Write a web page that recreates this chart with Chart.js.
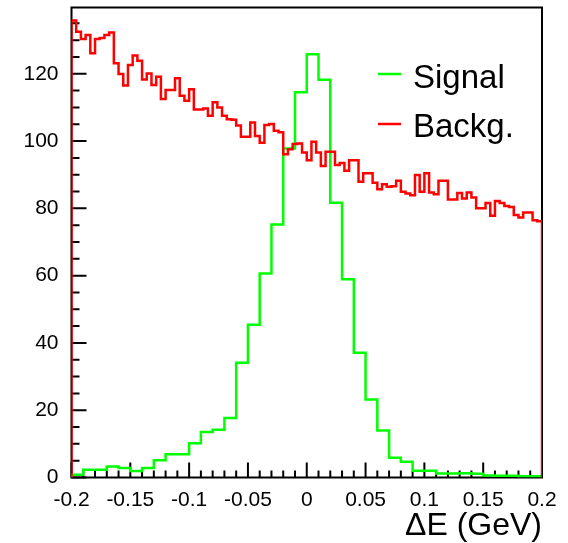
<!DOCTYPE html>
<html lang="en">
<head>
  <meta charset="UTF-8" />
  <title>Delta E - Signal vs Backg.</title>
  <script src="https://cdn.jsdelivr.net/npm/chart.js"></script>
  <style>
    html, body {
      margin: 0;
      padding: 0;
      background: #ffffff;
    }
    #deChart {
      display: block;
    }
  </style>
</head>
<body>
  <canvas id="deChart" width="568" height="543"></canvas>

  <script>
    // histogram range and axis ticks
    const xRange = [-0.2, 0.2];
    const yRange = [0, 139.7];
    const xTickValues = [-0.2, -0.15, -0.1, -0.05, 0, 0.05, 0.1, 0.15, 0.2];
    const xTickLabels = ["-0.2", "-0.15", "-0.1", "-0.05", "0", "0.05", "0.1", "0.15", "0.2"];
    const yTickValues = [0, 20, 40, 60, 80, 100, 120];
    const xTitle = "\u0394E (GeV)";
    const legendLabels = ["Signal", "Backg."];

    // signal: 40 bins over [-0.2, 0.2]
    const signalValues = [
      0.8, 2.3, 2.3, 3.3, 2.8, 1.9, 2.8, 5.1, 6.9, 6.9,
      10.2, 13.5, 14.2, 17.7, 34.1, 45.4, 60.6, 75.2, 97.8, 114.5,
      125.8, 118.2, 81.7, 58.9, 37.1, 23.2, 14.0, 5.9, 4.7, 2.0,
      2.0, 1.2, 1.2, 1.3, 1.1, 0.6, 0.5, 0.5, 0.4, 0.4
    ];

    // background: 100 bins over [-0.2, 0.2]
    const backgValues = [
      135.8, 132.5, 130.3, 131.5, 126.1, 130.3, 130.6, 131.5, 132.3, 123.1,
      119.9, 116.5, 122.6, 125.4, 123.9, 118.3, 120.1, 116.7, 119.1, 112.5,
      115.2, 115.2, 118.7, 113.5, 112.0, 115.4, 109.4, 109.4, 109.7, 107.5,
      111.5, 110.0, 107.5, 106.5, 106.3, 104.6, 101.3, 101.3, 105.5, 101.5,
      99.5, 104.8, 105.1, 103.1, 102.6, 96.1, 97.6, 99.1, 99.3, 96.6,
      94.3, 99.8, 96.6, 92.6, 96.8, 96.8, 92.9, 93.5, 91.2, 94.3,
      94.3, 87.9, 90.4, 90.4, 87.6, 85.7, 87.2, 86.4, 86.6, 88.2,
      84.9, 84.4, 83.9, 89.9, 84.9, 90.4, 84.7, 84.2, 88.2, 88.2,
      82.6, 82.6, 84.6, 82.9, 84.7, 83.2, 80.0, 80.0, 81.6, 77.8,
      82.2, 81.6, 80.7, 80.4, 78.0, 77.3, 78.8, 78.8, 76.5, 76.2
    ];

    const FONT = "'Liberation Sans', Arial, Helvetica, sans-serif";

    // turn bin contents into step points (left edge of each bin, closed at 0 on both ends)
    function histPoints(values) {
      const w = (xRange[1] - xRange[0]) / values.length;
      const pts = [{ x: xRange[0], y: 0 }];
      values.forEach((v, i) => pts.push({ x: xRange[0] + i * w, y: v }));
      pts.push({ x: xRange[1], y: 0 });
      return pts;
    }

    // frame + ROOT style ticks drawn inside the plot
    const frameTicks = {
      id: 'frameTicks',
      beforeDatasetsDraw(chart) {
        const { ctx, chartArea: a, scales: { x, y } } = chart;
        ctx.save();
        ctx.strokeStyle = '#000';
        ctx.lineWidth = 2;
        ctx.strokeRect(a.left, a.top, a.right - a.left, a.bottom - a.top);

        ctx.beginPath();
        for (let v = 0; v <= 135; v += 5) {
          const py = y.getPixelForValue(v);
          const len = v % 20 === 0 ? 15 : 8;
          ctx.moveTo(a.left, py);
          ctx.lineTo(a.left + len, py);
        }
        for (let k = 0; k <= 40; k++) {
          const px = x.getPixelForValue(xRange[0] + k * 0.01);
          const len = k % 5 === 0 ? 15 : 7;
          ctx.moveTo(px, a.bottom);
          ctx.lineTo(px, a.bottom - len);
        }
        ctx.stroke();
        ctx.restore();
      }
    };

    // legend in the upper right corner
    const cornerLegend = {
      id: 'cornerLegend',
      afterDatasetsDraw(chart) {
        const { ctx } = chart;
        const rows = [
          { ds: chart.data.datasets[0], lineY: 74, textY: 88 },
          { ds: chart.data.datasets[1], lineY: 124, textY: 137 }
        ];
        ctx.save();
        ctx.font = '33px ' + FONT;
        ctx.fillStyle = '#000';
        ctx.textAlign = 'left';
        ctx.textBaseline = 'alphabetic';
        rows.forEach(r => {
          ctx.strokeStyle = r.ds.borderColor;
          ctx.lineWidth = 2.5;
          ctx.beginPath();
          ctx.moveTo(378, r.lineY);
          ctx.lineTo(401, r.lineY);
          ctx.stroke();
          ctx.fillText(r.ds.label, 413, r.textY);
        });
        ctx.restore();
      }
    };

    const ctx = document.getElementById('deChart').getContext('2d');
    const chart = new Chart(ctx, {
      type: 'line',
      data: {
        datasets: [
          {
            label: legendLabels[0],
            data: histPoints(signalValues),
            borderColor: '#00ff00',
            borderWidth: 2.5,
            stepped: 'before',
            pointRadius: 0,
            fill: false,
            order: 2
          },
          {
            label: legendLabels[1],
            data: histPoints(backgValues),
            borderColor: '#ff0000',
            borderWidth: 2.5,
            stepped: 'before',
            pointRadius: 0,
            fill: false,
            order: 1
          }
        ]
      },
      options: {
        responsive: false,
        animation: false,
        events: [],
        layout: {
          padding: { top: 7.5, right: 26, bottom: 0, left: 0 }
        },
        plugins: {
          legend: { display: false },
          tooltip: { enabled: false }
        },
        scales: {
          x: {
            type: 'linear',
            min: xRange[0],
            max: xRange[1],
            grid: { display: false, drawTicks: false },
            border: { display: false },
            afterBuildTicks: s => { s.ticks = xTickValues.map(v => ({ value: v })); },
            afterFit: s => {
              s.height = 65.5;
              s.paddingLeft = 0;
              s.paddingRight = 0;
            },
            ticks: {
              autoSkip: false,
              maxRotation: 0,
              padding: 10,
              color: '#000',
              font: { family: FONT, size: 21 },
              callback: (val, i) => xTickLabels[i]
            },
            title: {
              display: true,
              text: xTitle,
              align: 'end',
              color: '#000',
              font: { family: FONT, size: 32, lineHeight: 1 },
              padding: { top: 0, bottom: 1 }
            }
          },
          y: {
            min: yRange[0],
            max: yRange[1],
            grid: { display: false, drawTicks: false },
            border: { display: false },
            afterBuildTicks: s => { s.ticks = yTickValues.map(v => ({ value: v })); },
            afterFit: s => {
              s.width = 71.5;
              s.paddingTop = 0;
              s.paddingBottom = 0;
            },
            ticks: {
              padding: 13,
              color: '#000',
              font: { family: FONT, size: 21 }
            }
          }
        }
      },
      plugins: [frameTicks, cornerLegend]
    });
  </script>
</body>
</html>
